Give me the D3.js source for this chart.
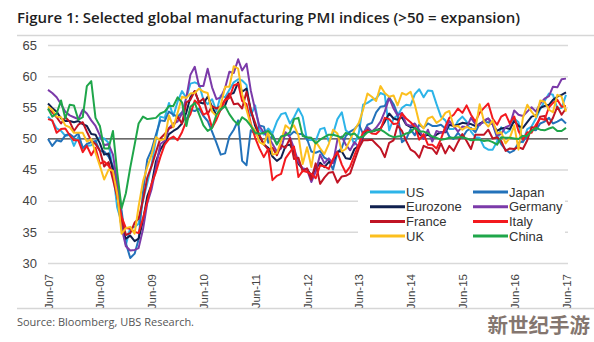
<!DOCTYPE html>
<html>
<head>
<meta charset="utf-8">
<title>Selected global manufacturing PMI indices</title>
<script src="https://d3js.org/d3.v7.min.js"></script>
<style>
  body { margin: 0; background: #fff; }
  svg text { font-family: "Liberation Sans Narrow", "Liberation Sans", Arial, sans-serif; }
</style>
</head>
<body>
<div id="chart"></div>
<script>
// monthly readings, Jun-07 .. Jun-17 (one row per calendar year)
var us = [
  53.5, 52.8, 51.6, 51.2, 50.4, 50.6, 48.8,
  50.3, 48.6, 48.8, 48.9, 49.4, 50.2, 50.0, 49.3, 44.8, 38.9, 36.5, 32.9,
  35.6, 35.8, 36.3, 40.1, 42.8, 45.8, 49.9, 53.5, 53.3, 55.7, 53.6, 55.9,
  57.6, 56.5, 58.8, 59.0, 58.7, 56.2, 55.5, 56.3, 54.4, 56.9, 56.6, 57.8,
  59.0, 59.5, 59.3, 58.6, 53.7, 55.3, 51.4, 50.6, 51.6, 50.8, 52.7, 53.9,
  54.1, 52.4, 53.4, 54.8, 53.5, 49.7, 49.8, 49.6, 51.5, 51.7, 49.5, 50.7,
  53.1, 54.2, 51.3, 50.7, 49.0, 50.9, 55.4, 55.7, 56.2, 56.4, 57.3, 57.0,
  51.3, 53.2, 53.7, 54.9, 55.4, 55.3, 57.1, 57.9, 56.6, 57.7, 57.6, 55.5,
  53.5, 52.9, 51.5, 51.5, 52.8, 53.5, 52.7, 51.1, 50.2, 50.1, 48.6, 48.2,
  48.2, 49.5, 51.8, 50.8, 51.3, 53.2, 52.6, 49.4, 51.5, 51.9, 53.2, 54.7,
  56.0, 57.2, 57.0, 54.8, 54.9, 57.0
];
var japan = [
  49.9, 48.8, 49.7, 49.5, 50.5, 50.7, 50.2,
  50.8, 48.4, 49.1, 49.4, 49.6, 48.0, 47.9, 47.1, 45.6, 42.2, 38.4, 33.2,
  30.8, 31.5, 33.8, 41.4, 46.6, 48.2, 50.6, 52.9, 52.8, 54.3, 53.8, 53.5,
  54.2, 53.0, 54.6, 54.4, 54.8, 53.6, 52.8, 51.1, 49.3, 47.4, 47.6, 50.3,
  51.4, 52.9, 46.4, 45.7, 51.3, 50.7, 52.1, 51.9, 49.3, 50.6, 49.1, 50.2,
  50.7, 50.5, 51.1, 50.7, 50.7, 49.9, 47.9, 47.7, 48.0, 46.9, 46.5, 45.0,
  47.7, 48.5, 50.4, 51.1, 51.5, 52.3, 50.7, 52.2, 52.5, 54.2, 55.1, 55.2,
  56.6, 55.5, 53.9, 49.4, 49.9, 51.5, 50.5, 52.2, 51.7, 52.4, 52.0, 52.0,
  52.2, 51.6, 50.3, 49.9, 50.9, 50.1, 51.2, 51.7, 51.0, 52.4, 52.6, 52.6,
  52.3, 50.1, 49.1, 48.2, 47.7, 48.1, 49.3, 49.5, 50.4, 51.4, 51.3, 52.4,
  52.7, 53.3, 52.4, 52.7, 53.1, 52.4
];
var eurozone = [
  55.6, 54.9, 54.3, 53.2, 52.8, 52.8, 52.6,
  52.8, 52.3, 52.0, 50.7, 50.6, 49.2, 47.4, 47.6, 45.0, 41.1, 35.6, 33.9,
  34.4, 33.5, 33.9, 36.8, 40.7, 42.6, 46.3, 48.2, 49.3, 50.7, 51.2, 51.6,
  52.4, 54.2, 56.6, 57.6, 55.8, 55.6, 56.7, 55.1, 53.7, 54.6, 55.3, 57.1,
  57.3, 59.0, 57.5, 58.0, 54.6, 52.0, 50.4, 49.0, 48.5, 47.1, 46.4, 46.9,
  48.8, 49.0, 47.7, 45.9, 45.1, 45.1, 44.0, 45.1, 46.1, 45.4, 46.2, 46.1,
  47.9, 47.9, 46.8, 46.7, 48.3, 48.8, 50.3, 51.4, 51.1, 51.3, 51.6, 52.7,
  54.0, 53.2, 53.0, 53.4, 52.2, 51.8, 51.8, 50.7, 50.3, 50.6, 50.1, 50.6,
  51.0, 51.0, 52.2, 52.0, 52.2, 52.5, 52.4, 52.3, 52.0, 52.3, 52.8, 53.2,
  52.3, 51.2, 51.6, 51.7, 51.5, 52.8, 52.0, 51.7, 52.6, 53.5, 53.7, 54.9,
  55.2, 55.4, 56.2, 56.7, 57.0, 57.4
];
var germany = [
  57.8, 57.3, 56.6, 55.5, 54.3, 53.7, 53.4,
  53.1, 54.6, 54.0, 52.9, 52.0, 50.5, 48.9, 49.1, 47.4, 42.9, 35.7, 32.7,
  32.0, 32.1, 32.4, 35.4, 39.6, 41.9, 45.3, 49.1, 49.6, 51.7, 52.4, 52.7,
  54.0, 56.6, 60.2, 61.5, 58.4, 58.4, 61.2, 58.2, 56.3, 56.6, 58.1, 60.7,
  60.5, 62.7, 60.9, 62.0, 57.7, 54.6, 52.0, 50.9, 50.3, 49.1, 47.9, 48.4,
  51.0, 50.2, 48.4, 46.2, 45.2, 45.0, 43.0, 44.7, 47.4, 46.0, 46.8, 46.0,
  49.8, 50.3, 49.0, 48.1, 49.4, 48.6, 50.7, 51.8, 51.1, 51.7, 52.7, 54.3,
  56.5, 54.8, 53.7, 54.1, 52.3, 52.0, 52.4, 51.4, 49.9, 51.4, 49.5, 51.2,
  50.9, 51.1, 52.8, 52.0, 51.1, 51.9, 51.8, 53.3, 52.3, 52.1, 52.9, 53.2,
  52.3, 50.5, 50.7, 51.8, 52.1, 54.5, 53.8, 53.6, 54.3, 55.0, 54.3, 55.6,
  56.4, 56.8, 58.3, 58.2, 59.5, 59.6
];
var france = [
  54.7, 54.2, 53.4, 52.4, 53.4, 52.7, 51.2,
  52.2, 52.6, 51.1, 49.6, 49.1, 48.0, 45.5, 46.2, 43.4, 40.6, 37.0, 34.5,
  34.8, 36.5, 37.1, 40.1, 43.7, 45.6, 47.8, 50.0, 50.7, 51.6, 51.9, 53.5,
  52.4, 55.8, 56.2, 57.6, 55.8, 56.4, 53.9, 55.2, 54.8, 55.2, 56.2, 57.2,
  55.5, 55.6, 54.8, 57.5, 54.5, 52.5, 50.5, 49.1, 48.2, 48.5, 47.3, 48.9,
  48.5, 50.0, 46.7, 46.9, 44.7, 45.2, 43.4, 46.0, 42.7, 43.7, 44.5, 44.6,
  42.9, 43.9, 44.0, 44.4, 46.4, 48.4, 49.7, 49.7, 49.8, 49.1, 48.4, 47.0,
  49.3, 49.7, 52.1, 51.2, 49.6, 48.2, 47.8, 46.9, 48.8, 48.5, 48.4, 47.5,
  49.2, 47.6, 48.8, 48.0, 49.4, 50.7, 49.6, 48.3, 50.6, 50.6, 50.6, 51.4,
  50.0, 50.2, 49.6, 48.0, 48.4, 48.3, 48.6, 48.3, 49.7, 51.8, 51.7, 53.5,
  53.6, 52.2, 53.3, 55.1, 53.8, 54.8
];
var italy = [
  53.1, 52.9, 50.9, 51.5, 51.6, 50.5, 49.7,
  49.7, 47.8, 48.8, 47.3, 48.5, 45.9, 46.3, 45.6, 44.6, 40.9, 37.4, 35.6,
  35.5, 35.0, 34.8, 37.2, 39.8, 42.8, 44.6, 47.0, 49.0, 49.9, 50.3, 49.7,
  51.0, 52.8, 53.9, 56.1, 55.4, 53.8, 54.2, 51.7, 53.0, 54.7, 56.1, 56.5,
  58.5, 58.8, 56.0, 55.5, 52.4, 50.1, 48.4, 47.0, 48.3, 43.3, 44.0, 44.3,
  46.8, 47.8, 48.7, 43.8, 44.8, 44.6, 44.3, 43.6, 45.7, 45.5, 45.1, 46.7,
  47.8, 45.8, 44.5, 45.5, 47.3, 49.1, 51.0, 51.3, 50.8, 50.7, 51.4, 53.3,
  53.1, 52.3, 52.4, 54.0, 53.2, 52.6, 51.9, 49.8, 50.7, 49.0, 49.0, 48.4,
  49.9, 51.9, 53.3, 53.8, 54.8, 54.1, 55.3, 53.8, 52.7, 54.1, 54.9, 55.6,
  53.2, 52.2, 53.5, 53.9, 52.4, 53.5, 51.2, 49.8, 51.0, 50.9, 52.2, 53.2,
  53.0, 55.0, 55.7, 56.2, 55.1, 55.2
];
var uk = [
  55.1, 54.6, 53.5, 53.4, 52.1, 51.8, 50.9,
  50.9, 50.9, 49.5, 49.9, 47.7, 45.6, 43.4, 45.0, 44.8, 41.1, 34.7, 35.6,
  35.8, 34.7, 39.1, 43.1, 45.4, 47.4, 50.2, 49.7, 49.9, 53.7, 51.8, 54.1,
  56.7, 56.5, 57.2, 57.3, 58.0, 57.5, 57.3, 54.3, 53.6, 55.3, 58.3, 58.3,
  61.6, 61.2, 57.1, 54.6, 52.1, 51.3, 49.4, 49.0, 51.1, 47.4, 47.6, 49.6,
  52.1, 51.5, 52.1, 50.5, 45.9, 48.6, 45.4, 49.5, 48.4, 47.5, 49.1, 51.4,
  50.8, 47.9, 48.3, 49.8, 51.3, 52.5, 54.6, 57.2, 56.7, 56.0, 58.4, 57.3,
  56.7, 56.9, 55.3, 57.3, 57.0, 57.5, 55.4, 52.5, 51.6, 53.2, 53.5, 52.5,
  53.0, 54.1, 54.4, 51.9, 52.0, 51.4, 51.9, 51.5, 51.5, 55.5, 52.7, 51.9,
  52.9, 50.8, 51.0, 49.2, 50.1, 52.1, 48.2, 53.3, 55.4, 54.3, 53.4, 56.1,
  55.9, 54.6, 54.2, 57.0, 56.7, 54.3
];
var china = [
  54.8, 53.5, 54.0, 56.1, 53.2, 55.4, 55.3,
  53.0, 53.4, 58.4, 59.2, 53.3, 52.0, 48.4, 48.4, 51.2, 44.6, 38.8, 41.2,
  45.3, 49.0, 52.4, 53.5, 53.1, 53.2, 53.3, 54.0, 54.3, 55.2, 55.2, 56.6,
  55.8, 52.0, 55.1, 55.7, 53.9, 52.1, 51.2, 51.7, 53.8, 54.7, 55.2, 53.9,
  52.9, 52.2, 53.4, 52.9, 52.0, 50.9, 50.7, 50.9, 51.2, 50.4, 49.0, 50.3,
  50.5, 51.0, 53.1, 53.3, 50.4, 50.2, 50.1, 49.2, 49.8, 50.2, 50.6, 50.6,
  50.4, 50.1, 50.9, 50.6, 50.8, 50.1, 50.3, 51.0, 51.1, 51.4, 51.4, 51.0,
  50.5, 50.2, 50.3, 50.4, 50.8, 51.0, 51.7, 51.1, 51.1, 50.8, 50.3, 50.1,
  49.8, 49.9, 50.1, 50.1, 50.2, 50.2, 50.0, 49.7, 49.8, 49.8, 49.6, 49.7,
  49.4, 49.0, 50.2, 50.1, 50.1, 50.0, 49.9, 50.4, 50.4, 51.2, 51.7, 51.4,
  51.3, 51.6, 51.8, 51.2, 51.2, 51.7
];

var seriesNames = ["US", "Japan", "Eurozone", "Germany", "France", "Italy", "UK", "China"];
var seriesValues = [us, japan, eurozone, germany, france, italy, uk, china];
var seriesColors = ["#2db4e8", "#2372ba", "#10204f", "#7b3aa9", "#c01424", "#f3191e", "#fcbf1e", "#1fa64a"];
var yTicks = [30, 35, 40, 45, 50, 55, 60, 65];
var xTickYears = [2007, 2008, 2009, 2010, 2011, 2012, 2013, 2014, 2015, 2016, 2017];

var months = d3.timeMonth.range(new Date(2007, 5, 1), new Date(2017, 6, 1));

var width = 594, height = 342;

var svg = d3.select("#chart").append("svg")
  .attr("width", width)
  .attr("height", height);

// title
svg.append("text")
  .attr("x", 17).attr("y", 23)
  .attr("textLength", 503).attr("lengthAdjust", "spacingAndGlyphs")
  .style("font-family", "'Open Sans', 'Liberation Sans', sans-serif")
  .style("font-weight", 600)
  .style("font-size", "14.5px")
  .style("fill", "#1e1e1e")
  .text("Figure 1: Selected global manufacturing PMI indices (>50 = expansion)");

svg.append("line").attr("x1", 17).attr("x2", 594).attr("y1", 35.5).attr("y2", 35.5)
  .style("stroke", "#d6d6d6").style("stroke-width", 1.5);

var x = d3.scaleTime()
  .domain([months[0], months[months.length - 1]])
  .range([48, 566]);

var y = d3.scaleLinear()
  .domain([30, 65])
  .range([263, 45]);

// y axis + gridlines
var yAxis = svg.append("g")
  .attr("transform", "translate(48,0)")
  .call(d3.axisLeft(y).tickValues(yTicks).tickSize(-520).tickPadding(11));
yAxis.select(".domain").remove();
yAxis.selectAll(".tick line")
  .style("stroke", function (d) { return d === 50 ? "#3a3a3a" : "#d9d9d9"; })
  .style("stroke-width", function (d) { return d === 50 ? 1.2 : 1.5; });
yAxis.selectAll(".tick text")
  .style("font-size", "13px")
  .style("fill", "#444");

// x axis labels
var xAxis = svg.append("g")
  .attr("transform", "translate(0,263)")
  .call(d3.axisBottom(x)
    .tickValues(xTickYears.map(function (yr) { return new Date(yr, 5, 1); }))
    .tickFormat(d3.timeFormat("%b-%y"))
    .tickSize(0));
xAxis.select(".domain").remove();
xAxis.selectAll(".tick text")
  .attr("transform", "rotate(-90)")
  .attr("x", -11).attr("y", 0).attr("dy", "0.35em")
  .style("text-anchor", "end")
  .style("font-size", "11.5px")
  .style("fill", "#444");

// series lines
var line = d3.line()
  .x(function (d, i) { return x(months[i]); })
  .y(function (d) { return y(d); });

svg.append("g").selectAll("path")
  .data(seriesValues)
  .enter()
  .append("path")
  .attr("d", line)
  .style("fill", "none")
  .style("stroke", function (d, i) { return seriesColors[i]; })
  .style("stroke-width", 2)
  .style("stroke-linejoin", "round");

// legend
var legend = svg.append("g");
legend.append("rect")
  .attr("x", 358).attr("y", 179).attr("width", 207).attr("height", 67)
  .style("fill", "#fff");

var items = legend.selectAll("g.item")
  .data(seriesNames)
  .enter()
  .append("g")
  .attr("class", "item")
  .attr("transform", function (d, i) {
    return "translate(" + (i % 2 === 0 ? 370 : 473) + "," + (192 + Math.floor(i / 2) * 14.7) + ")";
  });
items.append("line")
  .attr("x1", 0).attr("x2", 35)
  .style("stroke", function (d, i) { return seriesColors[i]; })
  .style("stroke-width", 3);
items.append("text")
  .attr("x", 36).attr("dy", "0.35em")
  .style("font-size", "13px")
  .style("fill", "#333")
  .text(function (d) { return d; });

// footer
svg.append("line").attr("x1", 17).attr("x2", 594).attr("y1", 308.5).attr("y2", 308.5)
  .style("stroke", "#d6d6d6").style("stroke-width", 1.5);

svg.append("text")
  .attr("x", 17).attr("y", 326)
  .attr("textLength", 177).attr("lengthAdjust", "spacingAndGlyphs")
  .style("font-family", "'Open Sans', 'Liberation Sans', sans-serif")
  .style("font-size", "10px")
  .style("fill", "#555")
  .text("Source:  Bloomberg, UBS Research.");

svg.append("text")
  .attr("x", 590).attr("y", 333)
  .style("text-anchor", "end")
  .style("font-family", "'Noto Sans CJK SC', sans-serif")
  .style("font-weight", 700)
  .style("font-size", "20.5px")
  .style("fill", "#84766f")
  .text("新世纪手游");
</script>
</body>
</html>
